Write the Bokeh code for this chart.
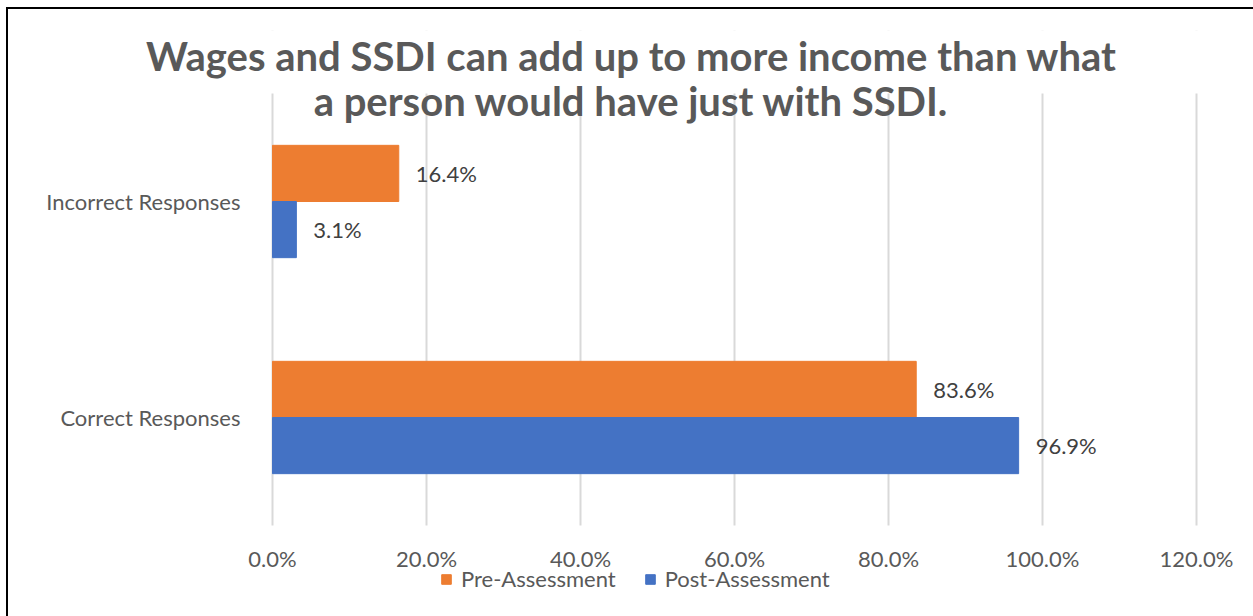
from bokeh.plotting import figure
from bokeh.models import (ColumnDataSource, Range1d, FixedTicker, LabelSet, Label,
                          Legend, LegendItem, BoxAnnotation)
from bokeh.core.properties import value
from bokeh.embed import file_html
from bokeh.resources import INLINE

# ---- data ----
categories = ["Correct Responses", "Incorrect Responses"]   # bottom to top
pre_values = [0.836, 0.164]
post_values = [0.969, 0.031]
series_names = ["Pre-Assessment", "Post-Assessment"]
x_ticks = [0.0, 0.2, 0.4, 0.6, 0.8, 1.0, 1.2]
x_tick_labels = ["0.0%", "20.0%", "40.0%", "60.0%", "80.0%", "100.0%", "120.0%"]
title_lines = ["Wages and SSDI can add up to more income than what",
               "a person would have just with SSDI."]

ORANGE = "#ED7D31"
BLUE = "#4472C4"
AXIS_TXT = "#595959"
LBL_TXT = "#404040"
FONT = "Lato"
BAR_H = 0.26
BAND_PX = 216
PX_PER_UNIT = 770

cat_pos = [i + 0.5 for i in range(len(categories))]
src = ColumnDataSource(dict(
    cat=categories,
    cat_pos=cat_pos,
    zero=[0.0] * len(categories),
    pre_y=[c + BAR_H / 2 for c in cat_pos],
    post_y=[c - BAR_H / 2 for c in cat_pos],
    pre=pre_values,
    post=post_values,
    pre_lbl=[f"{v*100:.1f}%" for v in pre_values],
    post_lbl=[f"{v*100:.1f}%" for v in post_values],
))
tick_src = ColumnDataSource(dict(x=x_ticks, y=[-33 / BAND_PX] * len(x_ticks), t=x_tick_labels))

# the frame covers the whole chart area; the category region is y in [0, 2], x in [0, 1.2]
p = figure(frame_width=1205, frame_height=586, output_backend="svg", toolbar_location=None,
           y_range=Range1d(-91 / BAND_PX, len(categories) + 63 / BAND_PX),
           x_range=Range1d(-232 / PX_PER_UNIT, 1.2 + 49 / PX_PER_UNIT),
           x_axis_location=None, y_axis_location=None,
           min_border_left=32, min_border_right=8, min_border_top=21, min_border_bottom=0)
p.outline_line_color = None
p.background_fill_color = "white"
p.border_fill_color = "white"
p.styles = {"border-left": "2px solid black", "border-top": "2px solid black",
            "margin-left": "6px", "margin-top": "7px"}

r_pre = p.hbar(y="pre_y", left=0, right="pre", height=BAR_H,
               source=src, fill_color=ORANGE, line_color=ORANGE)
r_post = p.hbar(y="post_y", left=0, right="post", height=BAR_H,
                source=src, fill_color=BLUE, line_color=BLUE)

# vertical gridlines at the tick values
p.xgrid.ticker = FixedTicker(ticks=x_ticks)
p.xgrid.grid_line_color = "#D9D9D9"
p.xgrid.grid_line_width = 2
p.ygrid.grid_line_color = None

# hide gridlines outside the category region
p.add_layout(BoxAnnotation(bottom=len(categories), fill_color="white", fill_alpha=1,
                           line_color=None))
p.add_layout(BoxAnnotation(top=0, fill_color="white", fill_alpha=1, line_color=None))

for col, lbl, ycol in (("pre", "pre_lbl", "pre_y"), ("post", "post_lbl", "post_y")):
    p.add_layout(LabelSet(x=col, y=ycol, text=lbl, source=src,
                          x_offset=17, text_baseline="middle", text_align="left",
                          text_font=value(FONT), text_font_size="22px", text_color=LBL_TXT))

# category labels (left of the zero line)
p.add_layout(LabelSet(x="zero", y="cat_pos", text="cat", source=src,
                      x_offset=-32, text_baseline="middle", text_align="right",
                      text_font=value(FONT), text_font_size="22px", text_color=AXIS_TXT))

# value-axis tick labels
p.add_layout(LabelSet(x="x", y="y", text="t", source=tick_src,
                      text_baseline="middle", text_align="center",
                      text_font=value(FONT), text_font_size="22px", text_color=AXIS_TXT))

# title lines
for txt, yv in zip(title_lines, (2 + 38 / BAND_PX, 2 - 7 / BAND_PX)):
    p.add_layout(Label(x=0.466, y=yv, text=txt, text_align="center", text_baseline="middle",
                       text_font=FONT, text_font_style="bold", text_font_size="40px",
                       text_color=AXIS_TXT))

# legend
legend = Legend(items=[LegendItem(label=series_names[0], renderers=[r_pre]),
                       LegendItem(label=series_names[1], renderers=[r_post])],
                location=(400, 24), orientation="horizontal",
                border_line_color=None, background_fill_alpha=0,
                padding=0, margin=0, spacing=28, label_standoff=9,
                glyph_width=12, glyph_height=12, label_height=20,
                label_text_font=FONT, label_text_font_size="22px", label_text_color=AXIS_TXT)
p.add_layout(legend, "center")

open("out.html", "w").write(file_html(p, INLINE))
